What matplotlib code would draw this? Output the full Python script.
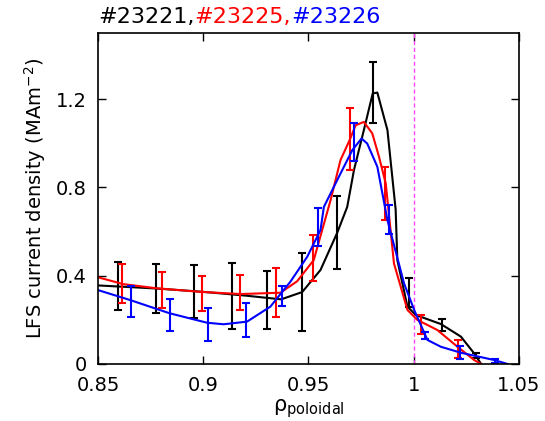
import matplotlib
matplotlib.use("Agg")
import matplotlib.pyplot as plt

# error bar data
rho_23221 = [0.8595, 0.8776, 0.8956, 0.9137, 0.9305, 0.9471, 0.9637, 0.9806, 0.9976, 1.0135, 1.0295]
j_23221 = [0.353, 0.342, 0.327, 0.308, 0.290, 0.326, 0.596, 1.231, 0.323, 0.177, 0.039]
err_23221 = [0.110, 0.110, 0.120, 0.150, 0.133, 0.175, 0.165, 0.137, 0.066, 0.026, 0.010]

rho_23225 = [0.8613, 0.8803, 0.8994, 0.9173, 0.9346, 0.9522, 0.9695, 0.9863, 1.0033, 1.0208]
j_23225 = [0.365, 0.335, 0.318, 0.325, 0.324, 0.480, 1.021, 0.771, 0.178, 0.068]
err_23225 = [0.090, 0.083, 0.080, 0.080, 0.110, 0.103, 0.140, 0.120, 0.044, 0.041]

rho_23226 = [0.8656, 0.8843, 0.9024, 0.9203, 0.9375, 0.9545, 0.9716, 0.9882, 1.0052, 1.0220, 1.0387]
j_23226 = [0.282, 0.222, 0.180, 0.201, 0.308, 0.620, 1.006, 0.654, 0.129, 0.052, 0.013]
err_23226 = [0.071, 0.071, 0.075, 0.077, 0.045, 0.085, 0.087, 0.066, 0.017, 0.031, 0.010]

# fitted profiles
fit_rho_23221 = [0.85, 0.878, 0.9, 0.92, 0.937, 0.947, 0.9557, 0.9637, 0.9684, 0.9716, 0.9763,
                 0.9805, 0.9827, 0.9875, 0.9914, 0.9922, 0.997, 1.001, 1.0129, 1.0224, 1.0287, 1.032]
fit_j_23221 = [0.356, 0.342, 0.327, 0.310, 0.293, 0.326, 0.426, 0.596, 0.712, 0.879, 1.06,
               1.226, 1.230, 1.06, 0.70, 0.471, 0.26, 0.222, 0.181, 0.124, 0.048, 0.0]

fit_rho_23225 = [0.85, 0.862, 0.878, 0.8986, 0.9176, 0.9367, 0.9446, 0.9525, 0.9605, 0.9652, 0.9695,
                 0.9724, 0.9763, 0.9803, 0.9835, 0.9867, 0.9906, 0.997, 1.0017, 1.0112, 1.0208, 1.0287, 1.032]
fit_j_23225 = [0.393, 0.362, 0.343, 0.327, 0.317, 0.323, 0.375, 0.471, 0.743, 0.924, 1.014,
               1.082, 1.097, 1.045, 0.939, 0.818, 0.456, 0.245, 0.200, 0.154, 0.078, 0.018, 0.0]

fit_rho_23226 = [0.85, 0.8652, 0.884, 0.9018, 0.9097, 0.9208, 0.9319, 0.9414, 0.9494, 0.9557, 0.9573,
                 0.9652, 0.9708, 0.9752, 0.9779, 0.9827, 0.9875, 0.9954, 1.0002, 1.0065, 1.0129,
                 1.0224, 1.0382, 1.0446]
fit_j_23226 = [0.335, 0.290, 0.230, 0.187, 0.180, 0.192, 0.260, 0.373, 0.486, 0.607, 0.712,
               0.863, 0.969, 1.022, 0.999, 0.894, 0.652, 0.365, 0.245, 0.109, 0.078,
               0.051, 0.018, 0.0]

separatrix = 1.0

plt.rcParams['font.family'] = 'DejaVu Sans'
fig = plt.figure(figsize=(5.45, 4.21), dpi=100)
ax = fig.add_axes([0.1798, 0.1354, 0.7725, 0.7862])

ax.axvline(separatrix, color='#ff44ff', linestyle='--', linewidth=1.0, dashes=(3, 2))

shots = [
    (rho_23221, j_23221, err_23221, fit_rho_23221, fit_j_23221, 'black'),
    (rho_23225, j_23225, err_23225, fit_rho_23225, fit_j_23225, 'red'),
    (rho_23226, j_23226, err_23226, fit_rho_23226, fit_j_23226, 'blue'),
]
for rho, j, err, frho, fj, col in shots:
    ax.errorbar(rho, j, yerr=err, fmt='none', ecolor=col, elinewidth=1.5,
                capsize=3, capthick=1.5)
    ax.plot(frho, fj, color=col, linewidth=1.5)

ax.set_xlim(0.85, 1.05)
ax.set_ylim(0, 1.5)
ax.set_xticks([0.85, 0.9, 0.95, 1.0, 1.05])
ax.set_xticklabels(['0.85', '0.9', '0.95', '1', '1.05'])
ax.set_yticks([0, 0.4, 0.8, 1.2])
ax.set_yticklabels(['0', '0.4', '0.8', '1.2'])
ax.tick_params(direction='in', top=True, right=True, length=6, width=1,
               labelsize=14)
ax.tick_params(axis='x', pad=9)
ax.tick_params(axis='y', pad=8)
for s in ax.spines.values():
    s.set_linewidth(1.2)

ax.set_xlabel(r'$\mathregular{\rho_{poloidal}}$', fontsize=15, labelpad=1)
ax.set_ylabel(r'LFS current density (MAm$\mathregular{^{-2}}$)', fontsize=14, labelpad=6)

# coloured title pieces
t1 = fig.text(0.1798, 0.937, '#23221,', color='black', fontsize=16, va='bottom')
t2 = ax.annotate('#23225,', xy=(1, 0), xycoords=t1, color='red', fontsize=16, va='bottom')
ax.annotate('#23226', xy=(1, 0), xycoords=t2, color='blue', fontsize=16, va='bottom')

fig.savefig('out.png', dpi=100)
